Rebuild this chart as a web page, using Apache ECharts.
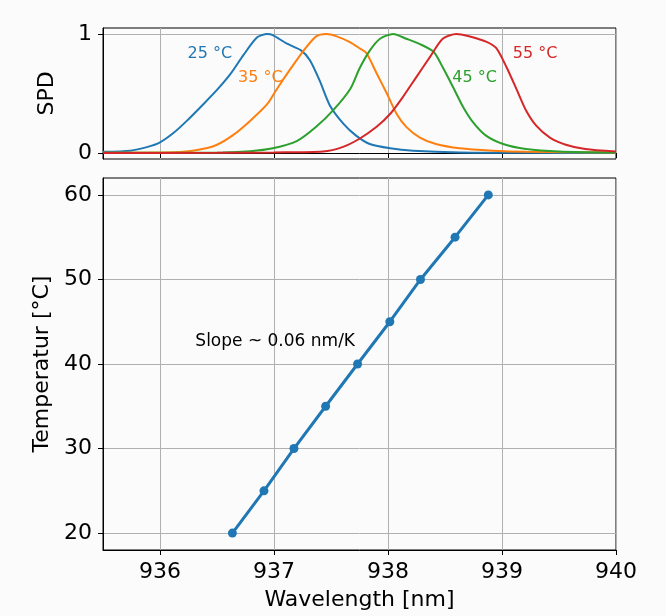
<!DOCTYPE html>
<html>
<head>
<meta charset="utf-8">
<script src="https://cdn.jsdelivr.net/npm/echarts@6/dist/echarts.min.js"></script>
<style>
html,body{margin:0;padding:0;background:#fbfbfb;}
#chart{width:666px;height:616px;}
</style>
</head>
<body>
<div id="chart"></div>
<script>
// ---- Data ----
const xTicks = [936, 937, 938, 939, 940];
const spdTicks = [0, 1];
const tempTicks = [20, 30, 40, 50, 60];

const wl25 = [935.5, 935.74, 935.885, 936.0, 936.12, 936.235, 936.38, 936.5, 936.615, 936.73, 936.85, 936.94, 936.99, 937.11, 937.24, 937.315, 937.4, 937.49, 937.61, 937.72, 937.84, 938.02, 938.22, 938.63, 939.2, 940];
const spd25 = [0.01, 0.02, 0.05, 0.09, 0.17, 0.27, 0.41, 0.53, 0.66, 0.82, 0.97, 1.0, 0.99, 0.92, 0.86, 0.78, 0.61, 0.40, 0.245, 0.146, 0.076, 0.04, 0.02, 0.005, 0.002, 0.001];

const wl35 = [935.5, 936.12, 936.35, 936.5, 936.64, 936.79, 936.94, 937.02, 937.14, 937.26, 937.37, 937.46, 937.55, 937.67, 937.75, 937.81, 937.9, 937.99, 938.075, 938.16, 938.28, 938.42, 938.63, 938.92, 939.21, 940];
const spd35 = [0.003, 0.006, 0.03, 0.07, 0.15, 0.27, 0.41, 0.53, 0.70, 0.86, 0.98, 1.0, 0.98, 0.93, 0.88, 0.84, 0.67, 0.50, 0.33, 0.22, 0.13, 0.076, 0.04, 0.02, 0.01, 0.004];

const wl45 = [935.5, 936.55, 936.79, 936.99, 937.2, 937.37, 937.52, 937.67, 937.75, 937.84, 937.93, 938.045, 938.16, 938.28, 938.4, 938.48, 938.57, 938.66, 938.745, 938.86, 939.01, 939.21, 939.5, 940];
const spd45 = [0.002, 0.005, 0.015, 0.04, 0.10, 0.22, 0.36, 0.54, 0.71, 0.86, 0.96, 1.0, 0.96, 0.915, 0.85, 0.72, 0.555, 0.385, 0.26, 0.146, 0.076, 0.034, 0.013, 0.005];

const wl55 = [935.5, 936.5, 937.0, 937.43, 937.6, 937.75, 937.9, 938.02, 938.13, 938.25, 938.37, 938.48, 938.6, 938.71, 938.86, 938.95, 939.04, 939.13, 939.21, 939.3, 939.42, 939.56, 939.73, 940];
const spd55 = [0.001, 0.002, 0.005, 0.013, 0.05, 0.12, 0.22, 0.33, 0.47, 0.64, 0.81, 0.96, 1.0, 0.98, 0.935, 0.88, 0.72, 0.53, 0.36, 0.23, 0.13, 0.07, 0.034, 0.013];

const peakWavelength = [936.635, 936.912, 937.175, 937.453, 937.733, 938.016, 938.285, 938.588, 938.88];
const temperature = [20, 25, 30, 35, 40, 45, 50, 55, 60];

const curveLabels = ['25 °C', '35 °C', '45 °C', '55 °C'];
const curveLabelPos = [[936.437, 0.83], [936.88, 0.63], [938.76, 0.635], [939.29, 0.83]];
const annotationText = 'Slope ~ 0.06 nm/K';
const annotationPos = [936.31, 42.6];

const colors = ['#1f77b4', '#ff7f0e', '#2ca02c', '#d62728'];
const FONT = 'DejaVu Sans';

function zip(a, b) { return a.map((v, i) => [v, b[i]]); }

const chart = echarts.init(document.getElementById('chart'), null, {renderer: 'canvas'});

const gridLine = {show: true, lineStyle: {color: '#b0b0b0', width: 1}};
const axLine = {show: true, lineStyle: {color: '#000', width: 1}};
const tickStyle = (vals) => ({show: true, inside: false, length: 5, customValues: vals, lineStyle: {color: '#000', width: 1}});
const labelStyle = (vals, show) => ({show: show, customValues: vals, color: '#000', fontFamily: FONT, fontSize: 22, margin: 11});

const spdCurves = [[wl25, spd25], [wl35, spd35], [wl45, spd45], [wl55, spd55]];

const series = [];
spdCurves.forEach((c, i) => {
  series.push({
    type: 'line', xAxisIndex: 0, yAxisIndex: 0,
    data: zip(c[0], c[1]), showSymbol: false, symbol: 'none', smooth: 0.25,
    lineStyle: {color: colors[i], width: 2}, itemStyle: {color: colors[i]}, z: 3
  });
});
series.push({
  type: 'scatter', xAxisIndex: 0, yAxisIndex: 0, symbolSize: 0, itemStyle: {opacity: 1},
  data: curveLabelPos.map((p, i) => ({
    value: p,
    label: {show: true, position: 'inside', formatter: curveLabels[i], color: colors[i], fontFamily: FONT, fontSize: 16, opacity: 1}
  })), z: 5
});
series.push({
  type: 'line', xAxisIndex: 1, yAxisIndex: 1,
  data: zip(peakWavelength, temperature),
  symbol: 'circle', symbolSize: 9, showSymbol: true,
  lineStyle: {color: colors[0], width: 3}, itemStyle: {color: colors[0]}, z: 3
});
series.push({
  type: 'scatter', xAxisIndex: 1, yAxisIndex: 1, symbolSize: 0, itemStyle: {opacity: 1},
  data: [{value: annotationPos,
    label: {show: true, position: 'right', distance: 0, formatter: annotationText, color: '#000', fontFamily: FONT, fontSize: 17, opacity: 1}}],
  z: 5
});

chart.setOption({
  animation: false,
  backgroundColor: '#fbfbfb',
  textStyle: {fontFamily: FONT},
  grid: [
    {left: 103, top: 28, right: 50, height: 131, show: true, borderColor: '#000', borderWidth: 1, backgroundColor: 'transparent'},
    {left: 103, top: 178, right: 50, bottom: 65, show: true, borderColor: '#000', borderWidth: 1, backgroundColor: 'transparent'}
  ],
  xAxis: [
    {type: 'value', gridIndex: 0, min: 935.5, max: 940, axisLine: axLine,
     axisTick: tickStyle(xTicks), axisLabel: labelStyle(xTicks, false), splitLine: gridLine},
    {type: 'value', gridIndex: 1, min: 935.5, max: 940, axisLine: axLine,
     axisTick: tickStyle(xTicks), axisLabel: labelStyle(xTicks, true), splitLine: gridLine,
     name: 'Wavelength [nm]', nameLocation: 'middle', nameGap: 39,
     nameTextStyle: {fontFamily: FONT, fontSize: 22, color: '#000'}}
  ],
  yAxis: [
    {type: 'value', gridIndex: 0, min: -0.05, max: 1.05, axisLine: axLine,
     axisTick: tickStyle(spdTicks), axisLabel: labelStyle(spdTicks, true), splitLine: gridLine,
     name: 'SPD', nameLocation: 'middle', nameGap: 45, nameRotate: 90,
     nameTextStyle: {fontFamily: FONT, fontSize: 22, color: '#000'}},
    {type: 'value', gridIndex: 1, min: 18, max: 62, axisLine: axLine,
     axisTick: tickStyle(tempTicks), axisLabel: labelStyle(tempTicks, true), splitLine: gridLine,
     name: 'Temperatur [°C]', nameLocation: 'middle', nameGap: 45, nameRotate: 90,
     nameTextStyle: {fontFamily: FONT, fontSize: 22, color: '#000'}}
  ],
  series: series
});
</script>
</body>
</html>
